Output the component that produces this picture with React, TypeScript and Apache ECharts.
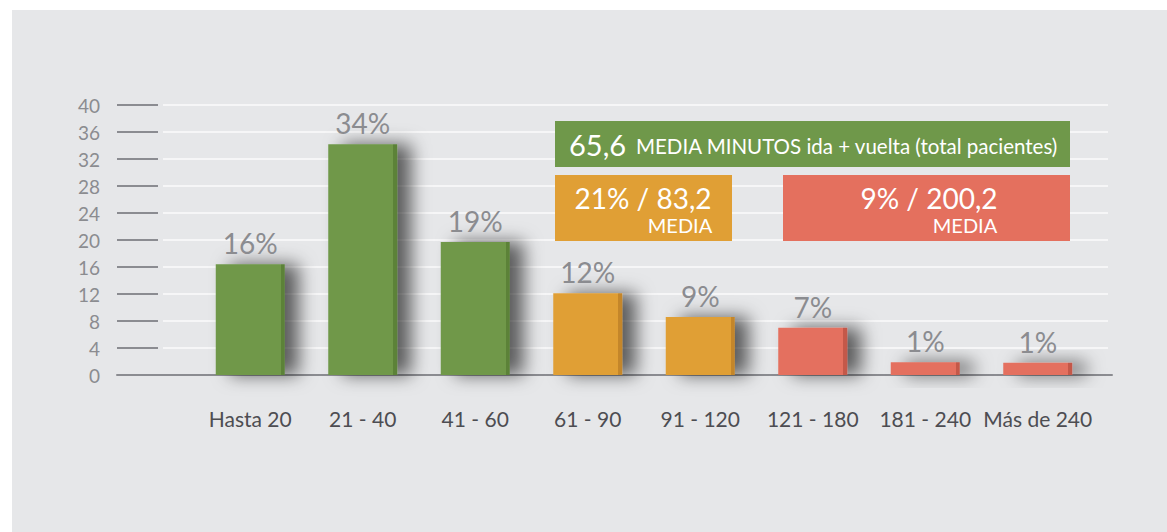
import React, { useEffect, useRef } from 'react';
import * as echarts from 'echarts';

// ---- data ----
const categories = ['Hasta 20', '21 - 40', '41 - 60', '61 - 90', '91 - 120', '121 - 180', '181 - 240', 'Más de 240'];
const values = [16.4, 34.2, 19.7, 12.1, 8.6, 7.0, 1.9, 1.8];
const valueLabels = ['16%', '34%', '19%', '12%', '9%', '7%', '1%', '1%'];
const barGroups = ['green', 'green', 'green', 'orange', 'orange', 'red', 'red', 'red'];
const yMin = 0;
const yMax = 40;
const yInterval = 4;
const totalMean = '65,6';
const totalMeanText = 'MEDIA MINUTOS ida + vuelta (total pacientes)';
const orangeSummary = '21% / 83,2';
const redSummary = '9% / 200,2';
const meanLabel = 'MEDIA';

// ---- styles ----
const palette: Record<string, { main: string; edge: string }> = {
  green: { main: '#6f984a', edge: '#5b8239' },
  orange: { main: '#e09f35', edge: '#c4862a' },
  red: { main: '#e4705e', edge: '#c4584a' },
};
const FONT = 'Lato, "Open Sans", sans-serif';
const GRAY_TXT = '#8b8c90';

export default function App() {
  const ref = useRef<HTMLDivElement>(null);
  useEffect(() => {
    if (!ref.current) return;
    const chart = echarts.init(ref.current, null, { renderer: 'svg' });
    const barData = values.map((v, i) => {
      const c = palette[barGroups[i]];
      return {
        value: v,
        itemStyle: {
          color: new echarts.graphic.LinearGradient(0, 0, 1, 0, [
            { offset: 0, color: c.main },
            { offset: 0.94, color: c.main },
            { offset: 0.94, color: c.edge },
            { offset: 1, color: c.edge },
          ]),
          shadowColor: 'rgba(0,0,0,0.6)',
          shadowBlur: 18,
          shadowOffsetX: 14,
          shadowOffsetY: 0,
        },
      };
    });
    const hiddenX = { type: 'value', min: 0, max: 1, show: false };
    const option: any = {
      animation: false,
      grid: [
        { left: 194, top: 105, width: 900, height: 270 }, // bars
        { left: 117, top: 105, width: 41, height: 270 }, // tick marks
        { left: 163, top: 105, width: 945, height: 270 }, // white grid lines
        { left: 117, top: 105, width: 995, height: 270 }, // baseline
      ],
      xAxis: [
        {
          type: 'category',
          gridIndex: 0,
          data: categories,
          axisLine: { show: false },
          axisTick: { show: false },
          axisLabel: { interval: 0, margin: 33, fontSize: 21, color: '#4d4d52', fontFamily: FONT },
        },
        { ...hiddenX, gridIndex: 1 },
        { ...hiddenX, gridIndex: 2 },
        {
          type: 'value', gridIndex: 3, min: 0, max: 1,
          axisLine: { show: true, lineStyle: { color: '#8b8c91', width: 2 } },
          axisTick: { show: false }, axisLabel: { show: false }, splitLine: { show: false },
        },
      ],
      yAxis: [
        { type: 'value', gridIndex: 0, min: yMin, max: yMax, interval: yInterval, show: false },
        {
          type: 'value', gridIndex: 1, min: yMin, max: yMax, interval: yInterval,
          axisLine: { show: false }, axisTick: { show: false },
          axisLabel: { margin: 17, fontSize: 19, color: GRAY_TXT, fontFamily: FONT },
          splitLine: { show: true, lineStyle: { color: '#8b8c91', width: 2 } },
        },
        {
          type: 'value', gridIndex: 2, min: yMin, max: yMax, interval: yInterval,
          axisLine: { show: false }, axisTick: { show: false }, axisLabel: { show: false },
          splitLine: { show: true, lineStyle: { color: '#f6f6f7', width: 2 } },
        },
        { type: 'value', gridIndex: 3, min: yMin, max: yMax, show: false },
      ],
      series: [
        {
          type: 'bar',
          xAxisIndex: 0,
          yAxisIndex: 0,
          data: barData,
          barWidth: 69,
          z: 5,
          label: {
            show: true,
            position: 'top',
            distance: 7,
            fontSize: 28,
            fontWeight: 'normal',
            color: GRAY_TXT,
            fontFamily: FONT,
            formatter: (p: any) => valueLabels[p.dataIndex],
          },
        },
      ],
      graphic: [
        { type: 'rect', z: 10, shape: { x: 555, y: 121, width: 515, height: 46 }, style: { fill: palette.green.main } },
        { type: 'text', z: 11, x: 569, y: 144, style: { text: totalMean, fill: '#fff', fontSize: 29, fontFamily: FONT, verticalAlign: 'middle' } },
        { type: 'text', z: 11, x: 636, y: 146, style: { text: totalMeanText, fill: '#fff', fontSize: 20.5, fontFamily: FONT, verticalAlign: 'middle' } },
        { type: 'rect', z: 10, shape: { x: 555, y: 175, width: 177, height: 66 }, style: { fill: palette.orange.main } },
        { type: 'text', z: 11, x: 643, y: 198, style: { text: orangeSummary, fill: '#fff', fontSize: 28, fontFamily: FONT, align: 'center', verticalAlign: 'middle' } },
        { type: 'text', z: 11, x: 680, y: 225, style: { text: meanLabel, fill: '#fff', fontSize: 20, fontFamily: FONT, align: 'center', verticalAlign: 'middle' } },
        { type: 'rect', z: 10, shape: { x: 783, y: 175, width: 287, height: 66 }, style: { fill: palette.red.main } },
        { type: 'text', z: 11, x: 929, y: 198, style: { text: redSummary, fill: '#fff', fontSize: 28, fontFamily: FONT, align: 'center', verticalAlign: 'middle' } },
        { type: 'text', z: 11, x: 965, y: 225, style: { text: meanLabel, fill: '#fff', fontSize: 20, fontFamily: FONT, align: 'center', verticalAlign: 'middle' } },
      ],
    };
    chart.setOption(option);
    return () => chart.dispose();
  }, []);

  return (
    <div style={{ position: 'fixed', left: 0, top: 0, width: 1167, height: 532, background: '#ffffff' }}>
      <div style={{ position: 'absolute', left: 12, top: 10, right: 0, bottom: 0, background: '#e6e7e9' }} />
      <div ref={ref} style={{ position: 'absolute', left: 0, top: 0, width: 1167, height: 532 }} />
    </div>
  );
}
